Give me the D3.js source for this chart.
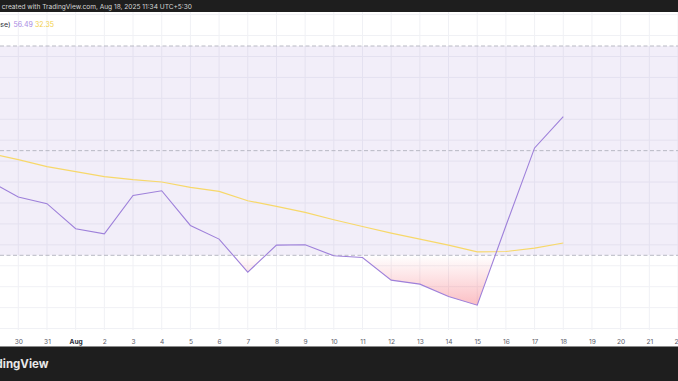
<!DOCTYPE html>
<html><head><meta charset="utf-8">
<script src="https://cdn.jsdelivr.net/npm/d3@7"></script>
<style>html,body{margin:0;padding:0;background:#fff;overflow:hidden}text{font-family:Inter,"Noto Sans",sans-serif}</style>
</head><body><svg id="c" width="678" height="381"></svg>
<script>
const dates = ["2025-07-29","2025-07-30","2025-07-31","2025-08-01","2025-08-02","2025-08-03","2025-08-04","2025-08-05","2025-08-06","2025-08-07","2025-08-08","2025-08-09","2025-08-10","2025-08-11","2025-08-12","2025-08-13","2025-08-14","2025-08-15","2025-08-16","2025-08-17","2025-08-18"];
const rsi = [44.2,41.14,39.86,35.07,34.11,41.45,42.34,35.70,33.10,26.78,31.95,32.01,29.90,29.58,25.25,24.49,22.11,20.47,35.65,50.52,56.49];
const rsiMA = [49.5,48.28,46.94,45.98,45.02,44.45,44.01,42.98,42.21,40.43,39.34,38.19,36.79,35.51,34.25,33.10,31.95,30.67,30.73,31.38,32.35];
const tickDates = ["2025-07-30","2025-07-31","2025-08-01","2025-08-02","2025-08-03","2025-08-04","2025-08-05","2025-08-06","2025-08-07","2025-08-08","2025-08-09","2025-08-10","2025-08-11","2025-08-12","2025-08-13","2025-08-14","2025-08-15","2025-08-16","2025-08-17","2025-08-18","2025-08-19","2025-08-20","2025-08-21","2025-08-22"];
const tickLabels = ["30","31","Aug","2","3","4","5","6","7","8","9","10","11","12","13","14","15","16","17","18","19","20","21","22"];
const levels = [70,50,30];
const gridLevels = [16,20,24,28,32,36,40,44,48,52,56,60,64,68,72,76];
const legendTitle = "RSI 14 close (close)";
const legendValues = ["56.49","32.35"];
const headerText = "Chart created with TradingView.com, Aug 18, 2025 11:34 UTC+5:30";
const footerText = "TradingView";

const W = 678, H = 381, plotTop = 12, plotBottom = 330;
const parse = d3.utcParse("%Y-%m-%d");
const svg = d3.select("#c");
const x = d3.scaleUtc().domain([parse("2025-07-30"), parse("2025-08-22")]).range([18.3, 678]);
const y = d3.scaleLinear().domain([30, 70]).range([255.3, 46]);
const pts = dates.map((d,i)=>({d:parse(d), r:rsi[i], m:rsiMA[i]}));

const defs = svg.append("defs");
const g = defs.append("linearGradient").attr("id","os").attr("gradientUnits","userSpaceOnUse")
  .attr("x1",0).attr("x2",0).attr("y1",y(30)).attr("y2",y(0));
g.append("stop").attr("offset",0).attr("stop-color","#F23645").attr("stop-opacity",0);
g.append("stop").attr("offset",1).attr("stop-color","#F23645").attr("stop-opacity",1);
defs.append("clipPath").attr("id","below").append("rect")
  .attr("x",0).attr("width",W).attr("y",y(30)).attr("height",plotBottom-y(30));

// grid
svg.append("g").selectAll("line").data(tickDates).join("line")
  .attr("x1",d=>x(parse(d))).attr("x2",d=>x(parse(d)))
  .attr("y1",plotTop).attr("y2",plotBottom)
  .attr("stroke","#f0f1f5").attr("stroke-width",1);
svg.append("g").selectAll("line").data(gridLevels.filter(v=>y(v)>plotTop && y(v)<plotBottom)).join("line")
  .attr("x1",0).attr("x2",W).attr("y1",d=>y(d)).attr("y2",d=>y(d))
  .attr("stroke","#f0f1f5").attr("stroke-width",1);

// band
svg.append("rect").attr("x",0).attr("width",W).attr("y",y(70)).attr("height",y(30)-y(70))
  .attr("fill","rgba(126,87,194,0.1)");

// oversold fill
svg.append("path").datum(pts).attr("clip-path","url(#below)")
  .attr("d", d3.area().x(d=>x(d.d)).y0(y(30)).y1(d=>y(d.r)))
  .attr("fill","url(#os)");

// level lines
svg.append("g").selectAll("line").data(levels).join("line")
  .attr("x1",0).attr("x2",W).attr("y1",d=>y(d)).attr("y2",d=>y(d))
  .attr("stroke","#b8b9c4").attr("stroke-width",1).attr("stroke-dasharray","4,2.5");

// lines
svg.append("path").datum(pts).attr("fill","none").attr("stroke","#F7D86A").attr("stroke-width",1.2)
  .attr("d", d3.line().x(d=>x(d.d)).y(d=>y(d.m)));
svg.append("path").datum(pts).attr("fill","none").attr("stroke","#9E80DA").attr("stroke-width",1.1)
  .attr("d", d3.line().x(d=>x(d.d)).y(d=>y(d.r)));

// x axis
const axis = d3.axisBottom(x).tickValues(tickDates.map(parse)).tickSize(0)
  .tickFormat((d,i)=>tickLabels[i]);
const ax = svg.append("g").attr("transform",`translate(0,336)`).call(axis);
ax.select(".domain").remove();
ax.selectAll("text").attr("font-size",6.6)
  .attr("font-family","Inter, sans-serif")
  .attr("font-weight",(d,i)=>tickLabels[i]==="Aug"?700:400)
  .attr("fill",(d,i)=>tickLabels[i]==="Aug"?"#2a2e39":"#5d606b");

// header bar
svg.append("rect").attr("x",0).attr("y",0).attr("width",W).attr("height",12).attr("fill","#1e1e1e");
const ht = svg.append("text").attr("x",0).attr("y",9).attr("font-size",6.6).attr("fill","#d6d6d6").text(headerText);
// fit visible part "created with ... 5:30" to span x = 0..192
(function(){
  const node = ht.node();
  const full = node.getComputedTextLength();
  const tmp = svg.append("text").attr("font-size",6.6).text("Chart ");
  const pre = tmp.node().getComputedTextLength();
  tmp.remove();
  const vis = full - pre;
  const fs = 6.6 * 192 / vis;
  ht.attr("font-size", fs).attr("x", -pre * fs / 6.6);
})();

// legend
svg.append("text").attr("x",10.5).attr("y",26.5).attr("text-anchor","end").attr("font-size",7).attr("fill","#2a2e39").text(legendTitle);
svg.append("text").attr("x",13.5).attr("y",26.5).attr("font-size",7).attr("fill","#A98BE3").text(legendValues[0]);
svg.append("text").attr("x",35).attr("y",26.5).attr("font-size",7).attr("fill","#F2CF4A").text(legendValues[1]);

// footer
svg.append("rect").attr("x",0).attr("y",347).attr("width",W).attr("height",H-347).attr("fill","#1e1e1e");
svg.append("line").attr("x1",0).attr("x2",W).attr("y1",346.5).attr("y2",346.5).attr("stroke","#8a8a8a").attr("stroke-width",1);
svg.append("text").attr("x",48.5).attr("y",368).attr("text-anchor","end")
  .attr("font-size",11.5).attr("font-weight",700).attr("fill","#e8e8e8").text(footerText);
</script></body></html>
